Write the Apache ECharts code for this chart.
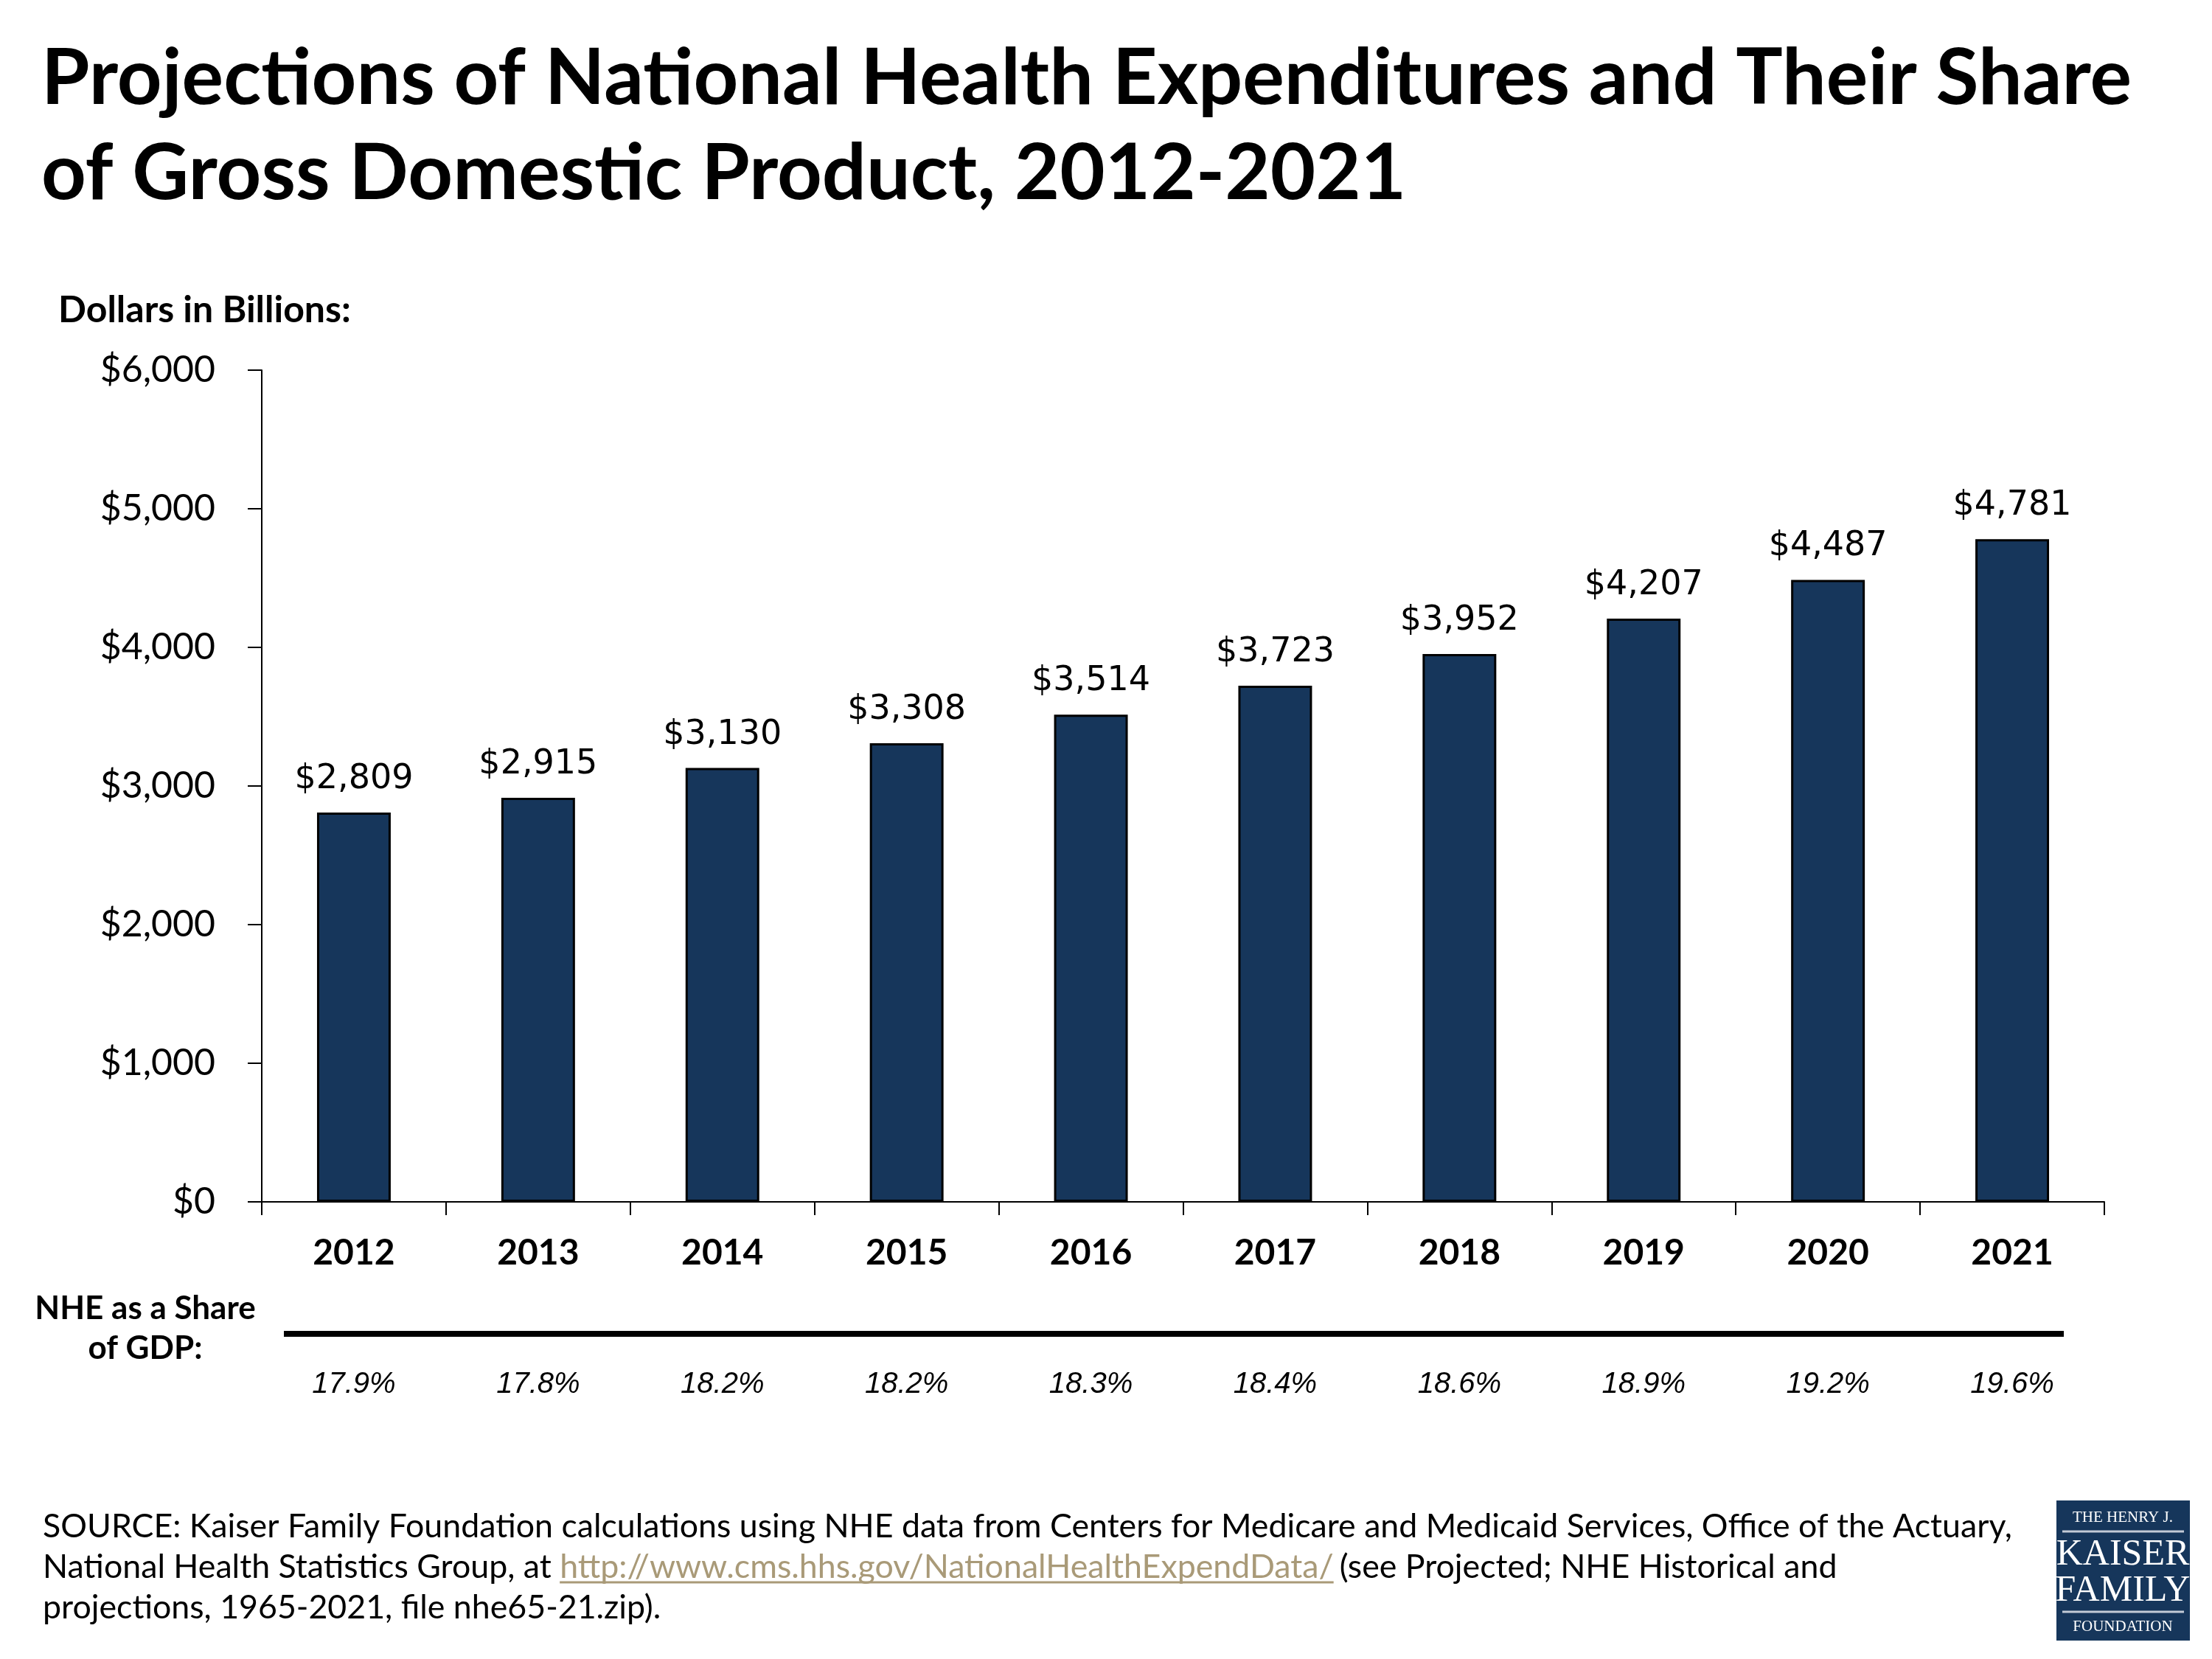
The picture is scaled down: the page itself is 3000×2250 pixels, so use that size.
<!DOCTYPE html>
<html><head><meta charset="utf-8">
<script src="https://cdn.jsdelivr.net/npm/echarts@6/dist/echarts.min.js"></script>
<style>html,body{margin:0;padding:0;background:#fff}#c{width:3000px;height:2250px}</style>
</head><body><div id="c"></div>
<script>
const years = ['2012','2013','2014','2015','2016','2017','2018','2019','2020','2021'];
const nheBillions = [2809, 2915, 3130, 3308, 3514, 3723, 3952, 4207, 4487, 4781];
const shareOfGDP = [17.9, 17.8, 18.2, 18.2, 18.3, 18.4, 18.6, 18.9, 19.2, 19.6];
const yTicks = [0, 1000, 2000, 3000, 4000, 5000, 6000];

const BAR = '#16365b';
const fmt = v => '$' + Number(v).toLocaleString('en-US');

const srcFont = '44.7px Lato';
const ctx = document.createElement('canvas').getContext('2d');
ctx.font = srcFont;
const pre2 = 'National Health Statistics Group, at ';
const link = 'http://www.cms.hhs.gov/NationalHealthExpendData/';
const w1 = ctx.measureText(pre2).width;
const wl = ctx.measureText(link).width;

const chart = echarts.init(document.getElementById('c'));
chart.setOption({
  animation: false,
  backgroundColor: '#fff',
  grid: { left: 355, right: 146, top: 502, bottom: 620, containLabel: false },
  xAxis: [{
    type: 'category', data: years, position: 'bottom',
    axisLine: { show: true, lineStyle: { color: '#000', width: 2 } },
    axisTick: { show: true, length: 18, lineStyle: { color: '#000', width: 2 } },
    axisLabel: { fontFamily: 'Lato', fontWeight: 'bold', fontSize: 48, color: '#000', margin: 46 }
  }, {
    type: 'category', data: years, position: 'bottom',
    axisLine: { show: false }, axisTick: { show: false },
    axisLabel: { fontFamily: 'Liberation Sans', fontStyle: 'italic', fontSize: 40, color: '#000', margin: 228,
      formatter: (v, i) => shareOfGDP[i].toFixed(1) + '%' }
  }],
  yAxis: {
    type: 'value', min: yTicks[0], max: yTicks[yTicks.length - 1], interval: 1000,
    splitLine: { show: false },
    axisLine: { show: true, lineStyle: { color: '#000', width: 2 } },
    axisTick: { show: true, length: 19, lineStyle: { color: '#000', width: 2 } },
    axisLabel: { fontFamily: 'Lato', fontSize: 50, color: '#000', margin: 63, formatter: fmt }
  },
  series: [{
    type: 'bar', data: nheBillions, barCategoryGap: '60%',
    itemStyle: { color: BAR, borderColor: '#000', borderWidth: 3 },
    label: { show: true, position: 'top', distance: 22, fontFamily: 'DejaVu Sans', fontSize: 46, color: '#000', formatter: p => fmt(p.value) }
  }, {
    type: 'bar', xAxisIndex: 1, data: [], silent: true
  }],
  graphic: [
    { type: 'text', left: 56, top: 54, style: { text: 'Projections of National Health Expenditures and Their Share', font: 'bold 106px Lato', fill: '#000' } },
    { type: 'text', left: 56, top: 183, style: { text: 'of Gross Domestic Product, 2012-2021', font: 'bold 106px Lato', fill: '#000' } },
    { type: 'text', left: 79, top: 396, style: { text: 'Dollars in Billions:', font: 'bold 50px Lato', fill: '#000' } },
    { type: 'text', x: 197, y: 1775, style: { text: 'NHE as a Share', font: 'bold 44px Lato', fill: '#000', align: 'center', verticalAlign: 'middle' } },
    { type: 'text', x: 197, y: 1829, style: { text: 'of GDP:', font: 'bold 44px Lato', fill: '#000', align: 'center', verticalAlign: 'middle' } },
    { type: 'line', shape: { x1: 385, y1: 1809, x2: 2799, y2: 1809 }, style: { stroke: '#000', lineWidth: 8 } },
    { type: 'text', x: 58, y: 2071, style: { text: 'SOURCE: Kaiser Family Foundation calculations using NHE data from Centers for Medicare and Medicaid Services, Office of the Actuary,', font: srcFont, fill: '#000', verticalAlign: 'middle' } },
    { type: 'text', x: 58, y: 2126, style: { text: pre2, font: srcFont, fill: '#000', verticalAlign: 'middle' } },
    { type: 'text', x: 58 + w1, y: 2126, style: { text: link, font: srcFont, fill: '#a99a78', verticalAlign: 'middle' } },
    { type: 'line', shape: { x1: 58 + w1, y1: 2146, x2: 58 + w1 + wl, y2: 2146 }, style: { stroke: '#a99a78', lineWidth: 3 } },
    { type: 'text', x: 58 + w1 + wl + 8, y: 2126, style: { text: '(see Projected; NHE Historical and', font: srcFont, fill: '#000', verticalAlign: 'middle' } },
    { type: 'text', x: 58, y: 2181, style: { text: 'projections, 1965-2021, file nhe65-21.zip).', font: srcFont, fill: '#000', verticalAlign: 'middle' } },
    { type: 'rect', shape: { x: 2789, y: 2035, width: 181, height: 190 }, style: { fill: BAR } },
    { type: 'text', x: 2879, y: 2058, style: { text: 'THE HENRY J.', font: '21px "Liberation Serif"', fill: '#fff', align: 'center', verticalAlign: 'middle' } },
    { type: 'line', shape: { x1: 2797, y1: 2077, x2: 2962, y2: 2077 }, style: { stroke: '#c3cad6', lineWidth: 3 } },
    { type: 'text', x: 2879, y: 2109, style: { text: 'KAISER', font: '50px "Liberation Serif"', fill: '#fff', align: 'center', verticalAlign: 'middle' } },
    { type: 'text', x: 2879, y: 2158, style: { text: 'FAMILY', font: '50px "Liberation Serif"', fill: '#fff', align: 'center', verticalAlign: 'middle' } },
    { type: 'line', shape: { x1: 2797, y1: 2186, x2: 2962, y2: 2186 }, style: { stroke: '#c3cad6', lineWidth: 3 } },
    { type: 'text', x: 2879, y: 2206, style: { text: 'FOUNDATION', font: '21px "Liberation Serif"', fill: '#fff', align: 'center', verticalAlign: 'middle' } }
  ]
});
</script></body></html>
